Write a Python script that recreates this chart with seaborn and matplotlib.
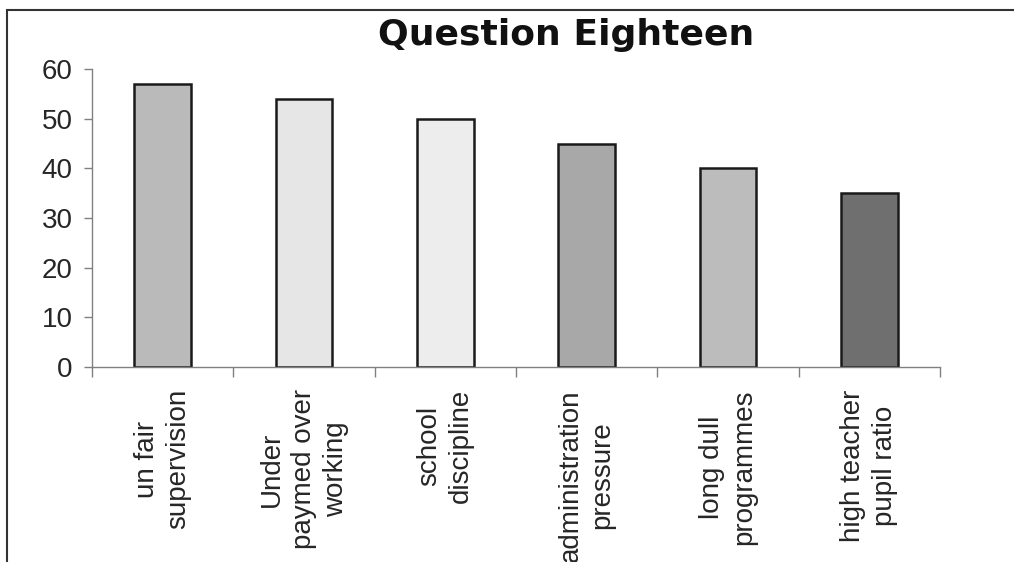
import matplotlib
matplotlib.use("Agg")
import matplotlib.pyplot as plt
import seaborn as sns
import pandas as pd
from matplotlib.patches import Rectangle

# --- DATA ---
categories = [
    "un fair\nsupervision",
    "Under\npaymed over\nworking",
    "school\ndiscipline",
    "administration\npressure",
    "long dull\nprogrammes",
    "high teacher\npupil ratio",
]
values = [57, 54, 50, 45, 40, 35]
bar_colors = ["#bababa", "#e6e6e6", "#ededed", "#a8a8a8", "#bcbcbc", "#6f6f6f"]
y_ticks = [0, 10, 20, 30, 40, 50, 60]

sns.set_style("white")
plt.rcParams["font.family"] = ["Liberation Sans", "DejaVu Sans"]

df = pd.DataFrame({"category": categories, "value": values})

fig = plt.figure(figsize=(10.14, 5.62), dpi=100)
ax = fig.add_axes([92 / 1014, 1 - 367 / 562, (940 - 92) / 1014, (367 - 69) / 562])

sns.barplot(data=df, x="category", y="value", hue="category", palette=bar_colors,
            legend=False, width=0.4, edgecolor="#1a1a1a", linewidth=1.8, ax=ax, saturation=1)

ax.set_xlim(-0.5, len(categories) - 0.5)
ax.set_ylim(0, 60)
ax.set_yticks(y_ticks)
ax.tick_params(axis="y", labelsize=20, length=6, width=1, color="#808080", pad=8, left=True)
ax.set_xticks(range(len(categories)))
ax.set_xticklabels(categories, rotation=90, fontsize=20, linespacing=1.3, va="top", ha="center")
ax.tick_params(axis="x", length=0, pad=16)
ax.set_xticks([i - 0.5 for i in range(len(categories) + 1)], minor=True)
ax.tick_params(axis="x", which="minor", length=7, width=1, color="#808080", bottom=True)
ax.set_xlabel("")
ax.set_ylabel("")
for side in ["top", "right"]:
    ax.spines[side].set_visible(False)
for side in ["left", "bottom"]:
    ax.spines[side].set_color("#808080")
    ax.spines[side].set_linewidth(1)

fig.text(566 / 1014, 1 - 35 / 562, "Question Eighteen", ha="center", va="center",
         fontsize=26, fontweight="heavy", family="DejaVu Sans", color="#111111")

fig.patches.append(Rectangle((7 / 1014, -0.05), 1.0, 1.05 - 10 / 562, transform=fig.transFigure,
                             fill=False, edgecolor="#333333", linewidth=1.5))

fig.savefig("out.png", dpi=100)
